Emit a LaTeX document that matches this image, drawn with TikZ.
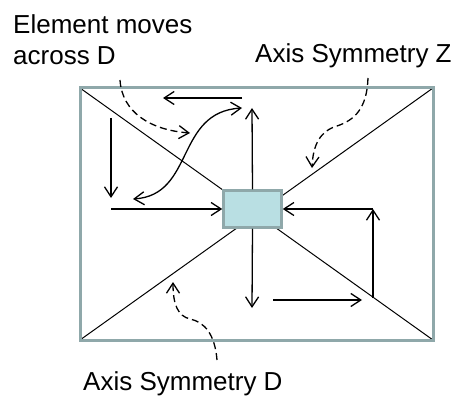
\documentclass[tikz,border=0pt]{standalone}
\usepackage{fontspec}
\setmainfont{Liberation Sans}
\usetikzlibrary{arrows.meta}
\definecolor{framegray}{HTML}{8FA8AA}
\definecolor{elemfill}{HTML}{B9DFE3}
\tikzset{
  move/.style={-{Straight Barb[length=10pt,width=13pt]}, line width=1.3pt},
  hint/.style={move, dash pattern=on 7pt off 4pt, line width=1.3pt},
  note/.style={anchor=base west, inner sep=0pt, font=\fontsize{26}{31}\selectfont},
  elembox/.style={draw=framegray, fill=elemfill, line width=2.5pt,
    minimum width=58pt, minimum height=37pt, inner sep=0pt},
}
\begin{document}
\begin{tikzpicture}[x=1pt,y=-1pt]
  \useasboundingbox (0,0) rectangle (461,396);
  % frame and axes
  \coordinate (tl) at (80,88);
  \coordinate (tr) at (433,88);
  \coordinate (bl) at (80,340);
  \coordinate (br) at (433,340);
  \draw[line width=1pt] (tl) -- (br) (bl) -- (tr);
  \draw[framegray, line width=3pt] (tl) rectangle (br);
  \node[elembox] (elem) at (252.5,209) {};
  % labels
  \node[note] (moves) at (13,34) {Element moves};
  \node[note] (across) at (13,65) {across D};
  \node[note] (axisz) at (255,63) {Axis Symmetry Z};
  \node[note] (axisd) at (83,390) {Axis Symmetry D};
  % free ends
  \coordinate (topr) at (242,98);
  \coordinate (topl) at (163,98);
  \coordinate (up) at (252,108);
  \coordinate (lefttop) at (111,118);
  \coordinate (leftbot) at (111,198);
  \coordinate (leftin) at (111,209);
  \coordinate (rightin) at (373,209);
  \coordinate (rightbot) at (373,298);
  \coordinate (down) at (252,308);
  \coordinate (botl) at (273,300);
  \coordinate (botr) at (362,300);
  \coordinate (swapa) at (133,199);
  \coordinate (swapb) at (242,108);
  \coordinate (movestart) at (120,80);
  \coordinate (moveend) at (190,133);
  \coordinate (zstart) at (368,78);
  \coordinate (zend) at (312,168);
  \coordinate (dstart) at (217,360);
  \coordinate (dend) at (173,282);
  \begin{scope}[move]
    \draw (topr) -- (topl);
    \draw (elem.north) -- (up);
    \draw (lefttop) -- (leftbot);
    \draw (leftin) -- (elem.west);
    \draw (rightin) -- (elem.east);
    \draw (rightbot) -- (rightin);
    \draw (elem.south) -- (down);
    \draw (botl) -- (botr);
    \draw[{Straight Barb[length=10pt,width=13pt]}-{Straight Barb[length=10pt,width=13pt]}]
      (swapa) .. controls (195,195) and (175,112) .. (swapb);
  \end{scope}
  \begin{scope}[hint]
    \draw (movestart) .. controls (122,112) and (150,130) .. (moveend);
    \draw (zstart) .. controls (367,108) and (355,120) .. (337,126)
      .. controls (320,131) and (313,145) .. (zend);
    \draw (dstart) .. controls (215,335) and (205,322) .. (190,319)
      .. controls (178,316) and (173,305) .. (dend);
  \end{scope}
\end{tikzpicture}
\end{document}
